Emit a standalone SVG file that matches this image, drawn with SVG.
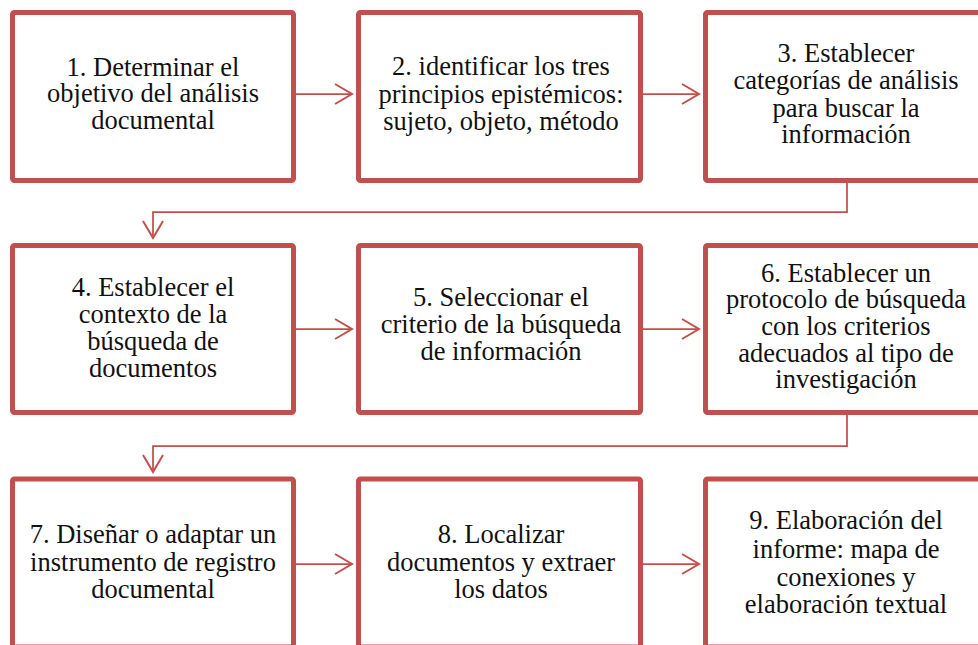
<svg xmlns="http://www.w3.org/2000/svg" width="978" height="645" viewBox="0 0 978 645">
<style>
.box{fill:#fff;stroke:#C0504D;stroke-width:5}
.t{font-family:'Liberation Serif','Times New Roman',serif;font-size:26.5px;fill:#111;text-anchor:middle}
.c{fill:none;stroke:#C0504D;stroke-width:1.75}
</style>
<defs>
<marker id="ah" markerUnits="userSpaceOnUse" markerWidth="22" markerHeight="24" refX="18" refY="11" orient="auto">
<path d="M1,1 L18,11 L1,21" fill="none" stroke="#C0504D" stroke-width="2"/>
</marker>
</defs>
<rect width="978" height="645" fill="#fff"/>
<g id="connectors">
<line class="c" x1="296" y1="94" x2="352" y2="94" marker-end="url(#ah)"/>
<line class="c" x1="643" y1="94" x2="699" y2="94" marker-end="url(#ah)"/>
<polyline class="c" points="847,183 847,212 153,212 153,238" marker-end="url(#ah)"/>
<line class="c" x1="296" y1="329" x2="352" y2="329" marker-end="url(#ah)"/>
<line class="c" x1="643" y1="329" x2="699" y2="329" marker-end="url(#ah)"/>
<polyline class="c" points="847,415 847,446 153,446 153,472" marker-end="url(#ah)"/>
<line class="c" x1="296" y1="564" x2="352" y2="564" marker-end="url(#ah)"/>
<line class="c" x1="643" y1="564" x2="699" y2="564" marker-end="url(#ah)"/>
</g>
<g id="n1"><rect class="box" x="12.5" y="12.5" width="281" height="168" rx="2"/>
<text class="t"><tspan x="153" y="76">1. Determinar el</tspan><tspan x="153" y="102">objetivo del análisis</tspan><tspan x="153" y="129">documental</tspan></text></g>
<g id="n2"><rect class="box" x="358.5" y="12.5" width="282" height="168" rx="2"/>
<text class="t"><tspan x="501" y="75">2. identificar los tres</tspan><tspan x="501" y="103">principios epistémicos:</tspan><tspan x="501" y="130">sujeto, objeto, método</tspan></text></g>
<g id="n3"><rect class="box" x="705.5" y="12.5" width="282" height="168" rx="2"/>
<text class="t"><tspan x="846" y="62">3. Establecer</tspan><tspan x="846" y="89">categorías de análisis</tspan><tspan x="846" y="117">para buscar la</tspan><tspan x="846" y="143">información</tspan></text></g>
<g id="n4"><rect class="box" x="12.5" y="245.5" width="281" height="167" rx="2"/>
<text class="t"><tspan x="153" y="296">4. Establecer el</tspan><tspan x="153" y="323">contexto de la</tspan><tspan x="153" y="350">búsqueda de</tspan><tspan x="153" y="377">documentos</tspan></text></g>
<g id="n5"><rect class="box" x="358.5" y="245.5" width="282" height="167" rx="2"/>
<text class="t"><tspan x="501" y="306">5. Seleccionar el</tspan><tspan x="501" y="333">criterio de la búsqueda</tspan><tspan x="501" y="360">de información</tspan></text></g>
<g id="n6"><rect class="box" x="705.5" y="245.5" width="282" height="167" rx="2"/>
<text class="t"><tspan x="846" y="282">6. Establecer un</tspan><tspan x="846" y="308">protocolo de búsqueda</tspan><tspan x="846" y="335">con los criterios</tspan><tspan x="846" y="362">adecuados al tipo de</tspan><tspan x="846" y="388">investigación</tspan></text></g>
<g id="n7"><rect class="box" x="12.5" y="479" width="281" height="168" rx="2"/>
<text class="t"><tspan x="153" y="543">7. Diseñar o adaptar un</tspan><tspan x="153" y="571">instrumento de registro</tspan><tspan x="153" y="598">documental</tspan></text></g>
<g id="n8"><rect class="box" x="358.5" y="479" width="282" height="168" rx="2"/>
<text class="t"><tspan x="501" y="543">8. Localizar</tspan><tspan x="501" y="571">documentos y extraer</tspan><tspan x="501" y="598">los datos</tspan></text></g>
<g id="n9"><rect class="box" x="705.5" y="479" width="282" height="168" rx="2"/>
<text class="t"><tspan x="846" y="529">9. Elaboración del</tspan><tspan x="846" y="558">informe: mapa de</tspan><tspan x="846" y="586">conexiones y</tspan><tspan x="846" y="613">elaboración textual</tspan></text></g>
</svg>
